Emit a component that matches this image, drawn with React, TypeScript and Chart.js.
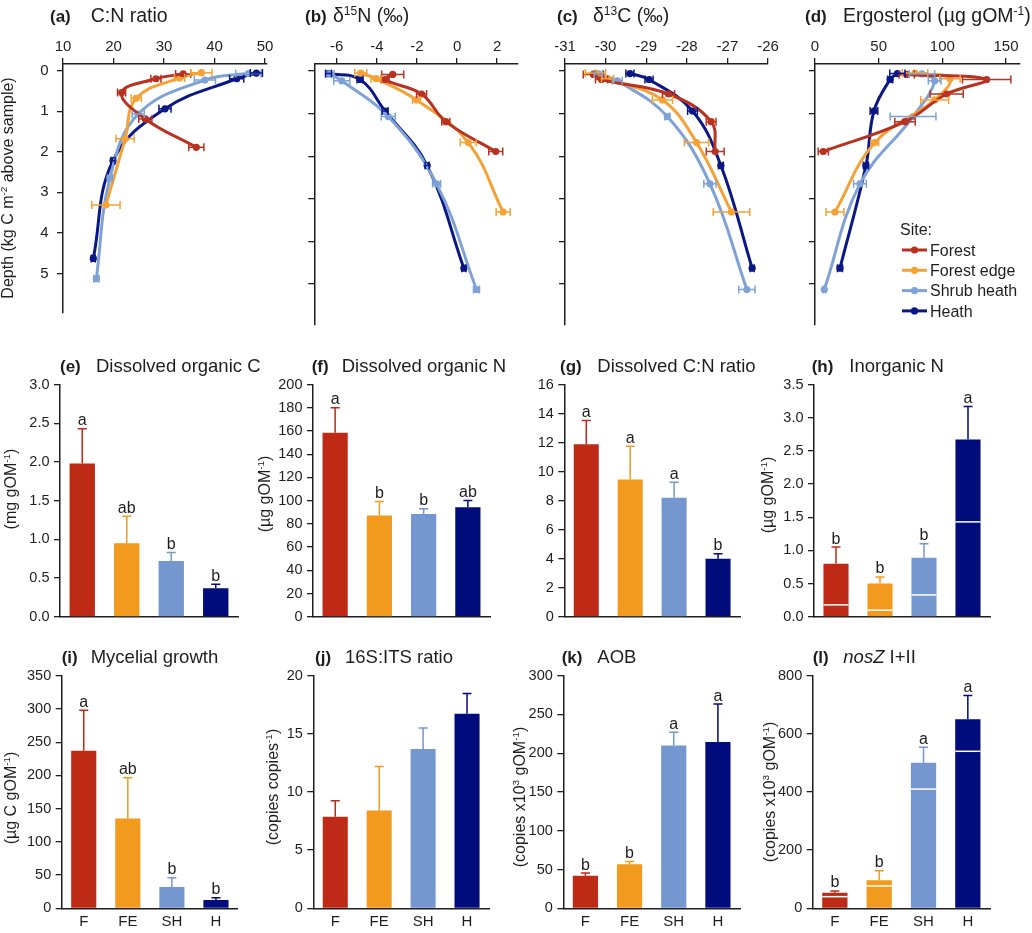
import React, { useEffect, useRef } from 'react';
import { Chart, registerables } from 'chart.js';

Chart.register(...registerables);

const FONT = '"Liberation Sans", Arial, Helvetica, sans-serif';
const INK = '#1e1e1e';
Chart.defaults.font.family = FONT;
Chart.defaults.color = INK;

const PAGE_W = 1032;

// ---------- shared categories / colours ----------
const SITES = ['Forest', 'Forest edge', 'Shrub heath', 'Heath'];
const CATEGORIES = ['F', 'FE', 'SH', 'H'];
const LINE_COLORS = ['#B83222', '#F4A236', '#7FA2D6', '#0B1786'];
const BAR_COLORS = ['#BE2A16', '#F29A1E', '#7497CF', '#000B7C'];

// ---------- depth profiles (kg C m-2 above sample) ----------
const DEPTH_TICKS = [0, 1, 2, 3, 4, 5];
const depthForest = [0.08, 0.2, 0.54, 1.19, 1.89];
const depthEdge = [0.05, 0.18, 0.68, 1.68, 3.31];
const depthShrub = [0.07, 0.23, 1.07, 2.65, 5.13];
const depthHeath = [0.06, 0.2, 0.94, 2.22, 4.63];
const DEPTHS = [depthForest, depthEdge, depthShrub, depthHeath];

// (a) C:N ratio
const cnTicks = [10, 20, 30, 40, 50];
const cnForest = [33.8, 28.4, 21.6, 26.3, 36.4];
const cnEdge = [37.4, 33.1, 24.5, 22.3, 18.5];
const cnShrub = [46.7, 38.1, 24.9, 19.3, 16.6];
const cnHeath = [48.3, 44.4, 30.2, 19.9, 16.0];
const cnForestErr = [1.5, 1.0, 0.8, 1.3, 1.5];
const cnEdgeErr = [2.1, 1.0, 1.0, 1.8, 2.8];
const cnShrubErr = [2.5, 2.1, 1.2, 0.5, 0.5];
const cnHeathErr = [1.2, 1.4, 1.2, 0.4, 0.4];

// (b) d15N
const d15Ticks = [-6, -4, -2, 0, 2];
const d15Forest = [-3.21, -3.59, -1.77, -0.56, 1.93];
const d15Edge = [-4.8, -4.04, -2.02, 0.56, 2.3];
const d15Shrub = [-6.33, -5.75, -3.43, -1.02, 0.97];
const d15Heath = [-6.41, -4.84, -3.59, -1.49, 0.34];
const d15ForestErr = [0.55, 0.2, 0.25, 0.2, 0.35];
const d15EdgeErr = [0.3, 0.25, 0.2, 0.4, 0.35];
const d15ShrubErr = [0.2, 0.4, 0.35, 0.2, 0.15];
const d15HeathErr = [0.15, 0.15, 0.15, 0.1, 0.1];

// (c) d13C
const d13Ticks = [-31, -30, -29, -28, -27, -26];
const d13Forest = [-30.3, -30.1, -28.45, -27.4, -27.3];
const d13Edge = [-30.25, -29.95, -28.6, -27.76, -26.9];
const d13Shrub = [-30.18, -29.71, -28.48, -27.43, -26.52];
const d13Heath = [-29.4, -28.93, -27.86, -27.16, -26.39];
const d13ForestErr = [0.25, 0.15, 0.15, 0.12, 0.22];
const d13EdgeErr = [0.25, 0.15, 0.25, 0.3, 0.45];
const d13ShrubErr = [0.1, 0.12, 0.06, 0.15, 0.2];
const d13HeathErr = [0.1, 0.1, 0.12, 0.06, 0.05];

// (d) Ergosterol
const ergTicks = [0, 50, 100, 150];
const ergForest = [72, 134.8, 103.4, 70.7, 6.5];
const ergEdge = [78.5, 106, 94, 47, 15.7];
const ergShrub = [84, 94, 77, 35.3, 7.3];
const ergHeath = [64.7, 59, 46.3, 40, 19.6];
const ergForestErr = [6, 19, 13, 8, 4];
const ergEdgeErr = [10, 8, 11, 3, 7];
const ergShrubErr = [10, 5, 18, 5, 1];
const ergHeathErr = [6, 2, 3, 2, 2];

// ---------- bar panels ----------
const docTicks = [0, 0.5, 1, 1.5, 2, 2.5, 3];
const docMeans = [1.98, 0.95, 0.72, 0.37];
const docErrs = [0.45, 0.35, 0.11, 0.05];
const docLetters = ['a', 'ab', 'b', 'b'];

const donTicks = [0, 20, 40, 60, 80, 100, 120, 140, 160, 180, 200];
const donMeans = [158.5, 87.3, 88.4, 94.4];
const donErrs = [21.5, 12, 4.6, 5.7];
const donLetters = ['a', 'b', 'b', 'ab'];

const dcnTicks = [0, 2, 4, 6, 8, 10, 12, 14, 16];
const dcnMeans = [11.89, 9.46, 8.2, 3.99];
const dcnErrs = [1.63, 2.29, 1.07, 0.35];
const dcnLetters = ['a', 'a', 'a', 'b'];

const inTicks = [0, 0.5, 1, 1.5, 2, 2.5, 3, 3.5];
const inMeans = [0.8, 0.5, 0.89, 2.67];
const inErrs = [0.25, 0.1, 0.21, 0.5];
const inMarks = [0.18, 0.1, 0.33, 1.43];
const inLetters = ['b', 'b', 'b', 'a'];

const myTicks = [0, 50, 100, 150, 200, 250, 300, 350];
const myMeans = [237, 135, 32, 12.5];
const myErrs = [61, 61.6, 14, 3.5];
const myLetters = ['a', 'ab', 'b', 'b'];

const itsTicks = [0, 5, 10, 15, 20];
const itsMeans = [7.88, 8.42, 13.7, 16.73];
const itsErrs = [1.37, 3.78, 1.8, 1.75];

const aobTicks = [0, 50, 100, 150, 200, 250, 300];
const aobMeans = [42.1, 56.7, 210, 214.4];
const aobErrs = [3.4, 3.5, 17, 49];
const aobLetters = ['b', 'b', 'a', 'a'];

const nosTicks = [0, 200, 400, 600, 800];
const nosMeans = [53.9, 96.3, 500.9, 650];
const nosErrs = [5.7, 33.2, 52.7, 82];
const nosMarks = [40, 76.8, 410, 540];
const nosLetters = ['b', 'b', 'a', 'a'];

// ---------- text helpers ----------
type Part = { t: string; size: number; bold?: boolean; italic?: boolean; sup?: boolean };

function fontOf(p: Part) {
  const size = p.sup ? p.size * 0.62 : p.size;
  return `${p.italic ? 'italic ' : ''}${p.bold ? 'bold ' : ''}${size}px ${FONT}`;
}

function drawRich(ctx: CanvasRenderingContext2D, parts: Part[], x: number, y: number, align: 'left' | 'center', rotate = false) {
  ctx.save();
  ctx.translate(x, y);
  if (rotate) ctx.rotate(-Math.PI / 2);
  ctx.fillStyle = INK;
  ctx.textAlign = 'left';
  ctx.textBaseline = 'alphabetic';
  const widths = parts.map((p) => {
    ctx.font = fontOf(p);
    return ctx.measureText(p.t).width;
  });
  const total = widths.reduce((a, b) => a + b, 0);
  let cx = align === 'center' ? -total / 2 : 0;
  parts.forEach((p, i) => {
    ctx.font = fontOf(p);
    ctx.fillText(p.t, cx, p.sup ? -p.size * 0.38 : 0);
    cx += widths[i];
  });
  ctx.restore();
}

type TitleDef = { tag: string; lx: number; tx: number; y: number; tagSize: number; parts: Part[] };
type YTitleDef = { x: number; y: number; parts: Part[] } | null;

function txt(t: string, size: number, extra: Partial<Part> = {}): Part {
  return { t, size, ...extra };
}

const T1 = 19.5; // top row title size
const T2 = 18.5; // lower rows title size
const TAG = 17;
const YT = 16;

function drawTitle(ctx: CanvasRenderingContext2D, tt: TitleDef, oy: number) {
  drawRich(ctx, [txt(tt.tag, tt.tagSize, { bold: true })], tt.lx, tt.y - oy, 'left');
  drawRich(ctx, tt.parts, tt.tx, tt.y - oy, 'left');
}

// ---------- profile panels ----------
type Profile = {
  cl: number; cr: number; min: number; max: number; ticks: number[];
  means: number[][]; errs: number[][]; showY: boolean; title: TitleDef; ytitle: YTitleDef; legend?: boolean;
};

const ROW1_TOP = 64;
const ROW1_BOTTOM = 325;
const ROW1_H = 330;
const ROW1_XAXIS = 30;
const Y_AXIS_W = 36;

const profiles: Profile[] = [
  {
    cl: 63, cr: 267, min: 10, max: 50.4, ticks: cnTicks,
    means: [cnForest, cnEdge, cnShrub, cnHeath], errs: [cnForestErr, cnEdgeErr, cnShrubErr, cnHeathErr],
    showY: true,
    title: { tag: '(a)', lx: 50, tx: 90.7, y: 22, tagSize: TAG, parts: [txt('C:N ratio', T1)] },
    ytitle: { x: 13, y: 188, parts: [txt('Depth (kg C m', YT), txt('-2', YT, { sup: true }), txt(' above sample)', YT)] },
  },
  {
    cl: 314.3, cr: 518, min: -7.12, max: 3.04, ticks: d15Ticks,
    means: [d15Forest, d15Edge, d15Shrub, d15Heath], errs: [d15ForestErr, d15EdgeErr, d15ShrubErr, d15HeathErr],
    showY: false,
    title: { tag: '(b)', lx: 305, tx: 333, y: 22, tagSize: TAG, parts: [txt('δ', T1), txt('15', T1, { sup: true }), txt('N (‰)', T1)] },
    ytitle: null,
  },
  {
    cl: 565, cr: 768, min: -31, max: -26, ticks: d13Ticks,
    means: [d13Forest, d13Edge, d13Shrub, d13Heath], errs: [d13ForestErr, d13EdgeErr, d13ShrubErr, d13HeathErr],
    showY: false,
    title: { tag: '(c)', lx: 557, tx: 593, y: 22, tagSize: TAG, parts: [txt('δ', T1), txt('13', T1, { sup: true }), txt('C (‰)', T1)] },
    ytitle: null,
  },
  {
    cl: 815, cr: 1020, min: 0, max: 161, ticks: ergTicks,
    means: [ergForest, ergEdge, ergShrub, ergHeath], errs: [ergForestErr, ergEdgeErr, ergShrubErr, ergHeathErr],
    showY: false,
    title: { tag: '(d)', lx: 805, tx: 843, y: 22, tagSize: TAG, parts: [txt('Ergosterol (µg gOM', T1), txt('-1', T1, { sup: true }), txt(')', T1)] },
    ytitle: null,
    legend: true,
  },
];

function profileConfig(p: Profile): any {
  const axisGrid = { drawOnChartArea: false, color: INK, tickLength: 6, lineWidth: 1.3 };
  const axisBorder = { color: INK, width: 1.5 };
  const oy = 0;
  const decoPlugin = {
    id: 'deco',
    afterDatasetsDraw(chart: any) {
      const ctx: CanvasRenderingContext2D = chart.ctx;
      const xs = chart.scales.x;
      const ys = chart.scales.y;
      ctx.save();
      ctx.lineWidth = 1.5;
      p.means.forEach((series, i) => {
        ctx.strokeStyle = LINE_COLORS[i];
        series.forEach((m, j) => {
          const e = p.errs[i][j];
          const y = ys.getPixelForValue(DEPTHS[i][j]);
          const x0 = xs.getPixelForValue(m - e);
          const x1 = xs.getPixelForValue(m + e);
          ctx.beginPath();
          ctx.moveTo(x0, y); ctx.lineTo(x1, y);
          ctx.moveTo(x0, y - 4); ctx.lineTo(x0, y + 4);
          ctx.moveTo(x1, y - 4); ctx.lineTo(x1, y + 4);
          ctx.stroke();
        });
      });
      ctx.restore();
    },
    afterDraw(chart: any) {
      const ctx: CanvasRenderingContext2D = chart.ctx;
      drawTitle(ctx, p.title, oy);
      if (p.ytitle) drawRich(ctx, p.ytitle.parts, p.ytitle.x, p.ytitle.y - oy, 'center', true);
      if (p.legend) {
        drawRich(ctx, [txt('Site:', 16)], 900, 235 - oy, 'left');
        SITES.forEach((s, i) => {
          const cy = 250 + i * 20.3 - oy;
          ctx.save();
          ctx.strokeStyle = LINE_COLORS[i];
          ctx.fillStyle = LINE_COLORS[i];
          ctx.lineWidth = 3;
          ctx.beginPath();
          ctx.moveTo(902, cy); ctx.lineTo(927, cy);
          ctx.stroke();
          ctx.beginPath();
          ctx.arc(914.5, cy, 3.6, 0, Math.PI * 2);
          ctx.fill();
          ctx.restore();
          drawRich(ctx, [txt(s, 16)], 930, cy + 5.6, 'left');
        });
      }
    },
  };
  return {
    type: 'scatter',
    data: {
      datasets: SITES.map((s, i) => ({
        label: s,
        data: p.means[i].map((v, j) => ({ x: v, y: DEPTHS[i][j] })),
        showLine: true,
        borderColor: LINE_COLORS[i],
        backgroundColor: LINE_COLORS[i],
        borderWidth: 3,
        pointRadius: 3.6,
        pointBorderWidth: 0,
        pointHoverRadius: 3.6,
        tension: 0.4,
      })),
    },
    options: {
      responsive: false,
      animation: false,
      events: [],
      layout: { padding: { top: ROW1_TOP - ROW1_XAXIS, right: PAGE_W - p.cr, bottom: ROW1_H - ROW1_BOTTOM, left: p.cl - Y_AXIS_W } },
      plugins: { legend: { display: false }, tooltip: { enabled: false }, title: { display: false } },
      scales: {
        x: {
          type: 'linear',
          position: 'top',
          min: p.min,
          max: p.max,
          afterBuildTicks: (s: any) => { s.ticks = p.ticks.map((v) => ({ value: v })); },
          afterFit: (s: any) => { s.height = ROW1_XAXIS; },
          grid: axisGrid,
          border: axisBorder,
          ticks: { font: { size: 15, family: FONT }, color: INK, padding: 2, maxRotation: 0, callback: (v: any) => String(v) },
        },
        y: {
          type: 'linear',
          position: 'left',
          reverse: true,
          min: -0.164,
          max: 5.963,
          afterBuildTicks: (s: any) => { s.ticks = DEPTH_TICKS.map((v) => ({ value: v })); },
          afterFit: (s: any) => { s.width = Y_AXIS_W; },
          grid: axisGrid,
          border: axisBorder,
          ticks: { display: p.showY, font: { size: 15, family: FONT }, color: INK, padding: 8.5, callback: (v: any) => String(v) },
        },
      },
    },
    plugins: [decoPlugin],
  };
}

// ---------- bar panels ----------
type BarPanel = {
  t: number; h: number; cl: number; cr: number; ct: number; cb: number;
  max: number; ticks: number[]; dec: number; means: number[]; errs: number[];
  letters: string[] | null; marks: number[] | null; showX: boolean; title: TitleDef; ytitle: YTitleDef;
};

const R2 = { t: 330, h: 300, ct: 384.5, cb: 617.3, ty: 371.7 };
const R3 = { t: 630, h: 303, ct: 675.7, cb: 908.3, ty: 663.3 };
const BAR_Y_AXIS_W = 40;

const yTitleGOM = (x: number, y: number, pre: string): YTitleDef => ({
  x, y, parts: [txt(pre, YT), txt('-1', YT, { sup: true }), txt(')', YT)],
});
const yTitleCopies = (x: number, y: number): YTitleDef => ({
  x, y, parts: [txt('(copies x10', YT), txt('3', YT, { sup: true }), txt(' gOM', YT), txt('-1', YT, { sup: true }), txt(')', YT)],
});

const bars: BarPanel[] = [
  {
    t: R2.t, h: R2.h, cl: 60, cr: 238, ct: R2.ct, cb: R2.cb, max: 3, ticks: docTicks, dec: 1,
    means: docMeans, errs: docErrs, letters: docLetters, marks: null, showX: false,
    title: { tag: '(e)', lx: 60, tx: 96, y: R2.ty, tagSize: TAG, parts: [txt('Dissolved organic C', T2)] },
    ytitle: yTitleGOM(16, 489, '(mg gOM'),
  },
  {
    t: R2.t, h: R2.h, cl: 313, cr: 490, ct: R2.ct, cb: R2.cb, max: 200, ticks: donTicks, dec: 0,
    means: donMeans, errs: donErrs, letters: donLetters, marks: null, showX: false,
    title: { tag: '(f)', lx: 311.7, tx: 341.7, y: R2.ty, tagSize: TAG, parts: [txt('Dissolved organic N', T2)] },
    ytitle: yTitleGOM(270, 494, '(µg gOM'),
  },
  {
    t: R2.t, h: R2.h, cl: 564.3, cr: 740, ct: R2.ct, cb: R2.cb, max: 16, ticks: dcnTicks, dec: 0,
    means: dcnMeans, errs: dcnErrs, letters: dcnLetters, marks: null, showX: false,
    title: { tag: '(g)', lx: 560, tx: 597.3, y: R2.ty, tagSize: TAG, parts: [txt('Dissolved C:N ratio', T2)] },
    ytitle: null,
  },
  {
    t: R2.t, h: R2.h, cl: 814, cr: 990, ct: R2.ct, cb: R2.cb, max: 3.5, ticks: inTicks, dec: 1,
    means: inMeans, errs: inErrs, letters: inLetters, marks: inMarks, showX: false,
    title: { tag: '(h)', lx: 811.7, tx: 849.3, y: R2.ty, tagSize: TAG, parts: [txt('Inorganic N', T2)] },
    ytitle: yTitleGOM(773, 495, '(µg gOM'),
  },
  {
    t: R3.t, h: R3.h, cl: 61.7, cr: 238, ct: R3.ct, cb: R3.cb, max: 350, ticks: myTicks, dec: 0,
    means: myMeans, errs: myErrs, letters: myLetters, marks: null, showX: true,
    title: { tag: '(i)', lx: 61.7, tx: 90.7, y: R3.ty, tagSize: TAG, parts: [txt('Mycelial growth', T2)] },
    ytitle: yTitleGOM(16, 798, '(µg C gOM'),
  },
  {
    t: R3.t, h: R3.h, cl: 313.3, cr: 489, ct: R3.ct, cb: R3.cb, max: 20, ticks: itsTicks, dec: 0,
    means: itsMeans, errs: itsErrs, letters: null, marks: null, showX: true,
    title: { tag: '(j)', lx: 315, tx: 345, y: R3.ty, tagSize: TAG, parts: [txt('16S:ITS ratio', T2)] },
    ytitle: yTitleGOM(278, 787, '(copies copies'),
  },
  {
    t: R3.t, h: R3.h, cl: 563.3, cr: 740, ct: R3.ct, cb: R3.cb, max: 300, ticks: aobTicks, dec: 0,
    means: aobMeans, errs: aobErrs, letters: aobLetters, marks: null, showX: true,
    title: { tag: '(k)', lx: 561.7, tx: 597.3, y: R3.ty, tagSize: TAG, parts: [txt('AOB', T2)] },
    ytitle: yTitleCopies(525, 797),
  },
  {
    t: R3.t, h: R3.h, cl: 812.7, cr: 990, ct: R3.ct, cb: R3.cb, max: 800, ticks: nosTicks, dec: 0,
    means: nosMeans, errs: nosErrs, letters: nosLetters, marks: nosMarks, showX: true,
    title: { tag: '(l)', lx: 812.7, tx: 843.3, y: R3.ty, tagSize: TAG, parts: [txt('nosZ', T2, { italic: true }), txt(' I+II', T2)] },
    ytitle: yTitleCopies(775, 792),
  },
];

function barConfig(b: BarPanel): any {
  const oy = b.t;
  const decoPlugin = {
    id: 'bardeco',
    afterDatasetsDraw(chart: any) {
      const ctx: CanvasRenderingContext2D = chart.ctx;
      const ys = chart.scales.y;
      const meta = chart.getDatasetMeta(0);
      ctx.save();
      meta.data.forEach((el: any, i: number) => {
        const { x, width } = el.getProps(['x', 'width'], true);
        if (b.marks) {
          const ym = ys.getPixelForValue(b.marks[i]);
          ctx.strokeStyle = '#ffffff';
          ctx.lineWidth = 1.5;
          ctx.beginPath();
          ctx.moveTo(x - width / 2, ym); ctx.lineTo(x + width / 2, ym);
          ctx.stroke();
        }
        const y0 = ys.getPixelForValue(b.means[i]);
        const y1 = ys.getPixelForValue(b.means[i] + b.errs[i]);
        ctx.strokeStyle = BAR_COLORS[i];
        ctx.lineWidth = 1.5;
        ctx.beginPath();
        ctx.moveTo(x, y0); ctx.lineTo(x, y1);
        ctx.moveTo(x - 4.5, y1); ctx.lineTo(x + 4.5, y1);
        ctx.stroke();
        if (b.letters) {
          ctx.fillStyle = INK;
          ctx.font = `16px ${FONT}`;
          ctx.textAlign = 'center';
          ctx.textBaseline = 'alphabetic';
          ctx.fillText(b.letters[i], x, y1 - 3.5);
        }
      });
      ctx.restore();
    },
    afterDraw(chart: any) {
      const ctx: CanvasRenderingContext2D = chart.ctx;
      drawTitle(ctx, b.title, oy);
      if (b.ytitle) drawRich(ctx, b.ytitle.parts, b.ytitle.x, b.ytitle.y - oy, 'center', true);
    },
  };
  return {
    type: 'bar',
    data: {
      labels: CATEGORIES,
      datasets: [{
        data: b.means,
        backgroundColor: BAR_COLORS,
        borderWidth: 0,
        barPercentage: 0.57,
        categoryPercentage: 1,
      }],
    },
    options: {
      responsive: false,
      animation: false,
      events: [],
      layout: { padding: { top: b.ct - b.t, right: PAGE_W - b.cr, bottom: 0, left: b.cl - BAR_Y_AXIS_W } },
      plugins: { legend: { display: false }, tooltip: { enabled: false }, title: { display: false } },
      scales: {
        x: {
          type: 'category',
          position: 'bottom',
          afterFit: (s: any) => { s.height = b.t + b.h - b.cb; },
          grid: { display: false, drawTicks: false },
          border: { color: INK, width: 1.5 },
          ticks: { display: b.showX, font: { size: 15, family: FONT }, color: INK, padding: 5, maxRotation: 0 },
        },
        y: {
          type: 'linear',
          position: 'left',
          min: 0,
          max: b.max,
          afterBuildTicks: (s: any) => { s.ticks = b.ticks.map((v) => ({ value: v })); },
          afterFit: (s: any) => { s.width = BAR_Y_AXIS_W; },
          grid: { drawOnChartArea: false, color: INK, tickLength: 6, lineWidth: 1.3 },
          border: { color: INK, width: 1.5 },
          ticks: { font: { size: 14.5, family: FONT }, color: INK, padding: 4.5, callback: (v: any) => Number(v).toFixed(b.dec) },
        },
      },
    },
    plugins: [decoPlugin],
  };
}

// ---------- components ----------
function ChartBox({ t, h, make }: { t: number; h: number; make: () => any }) {
  const ref = useRef<HTMLCanvasElement | null>(null);
  useEffect(() => {
    if (!ref.current) return;
    const chart = new Chart(ref.current, make());
    return () => chart.destroy();
  }, []);
  return (
    <canvas
      ref={ref}
      width={PAGE_W}
      height={h}
      style={{ position: 'absolute', left: 0, top: t, width: PAGE_W, height: h, display: 'block' }}
    />
  );
}

export default function App() {
  return (
    <div style={{ position: 'absolute', left: 0, top: 0, width: PAGE_W, height: 933, background: '#ffffff', overflow: 'hidden' }}>
      {profiles.map((p, i) => (
        <ChartBox key={'p' + i} t={0} h={ROW1_H} make={() => profileConfig(p)} />
      ))}
      {bars.map((b, i) => (
        <ChartBox key={'b' + i} t={b.t} h={b.h} make={() => barConfig(b)} />
      ))}
    </div>
  );
}
